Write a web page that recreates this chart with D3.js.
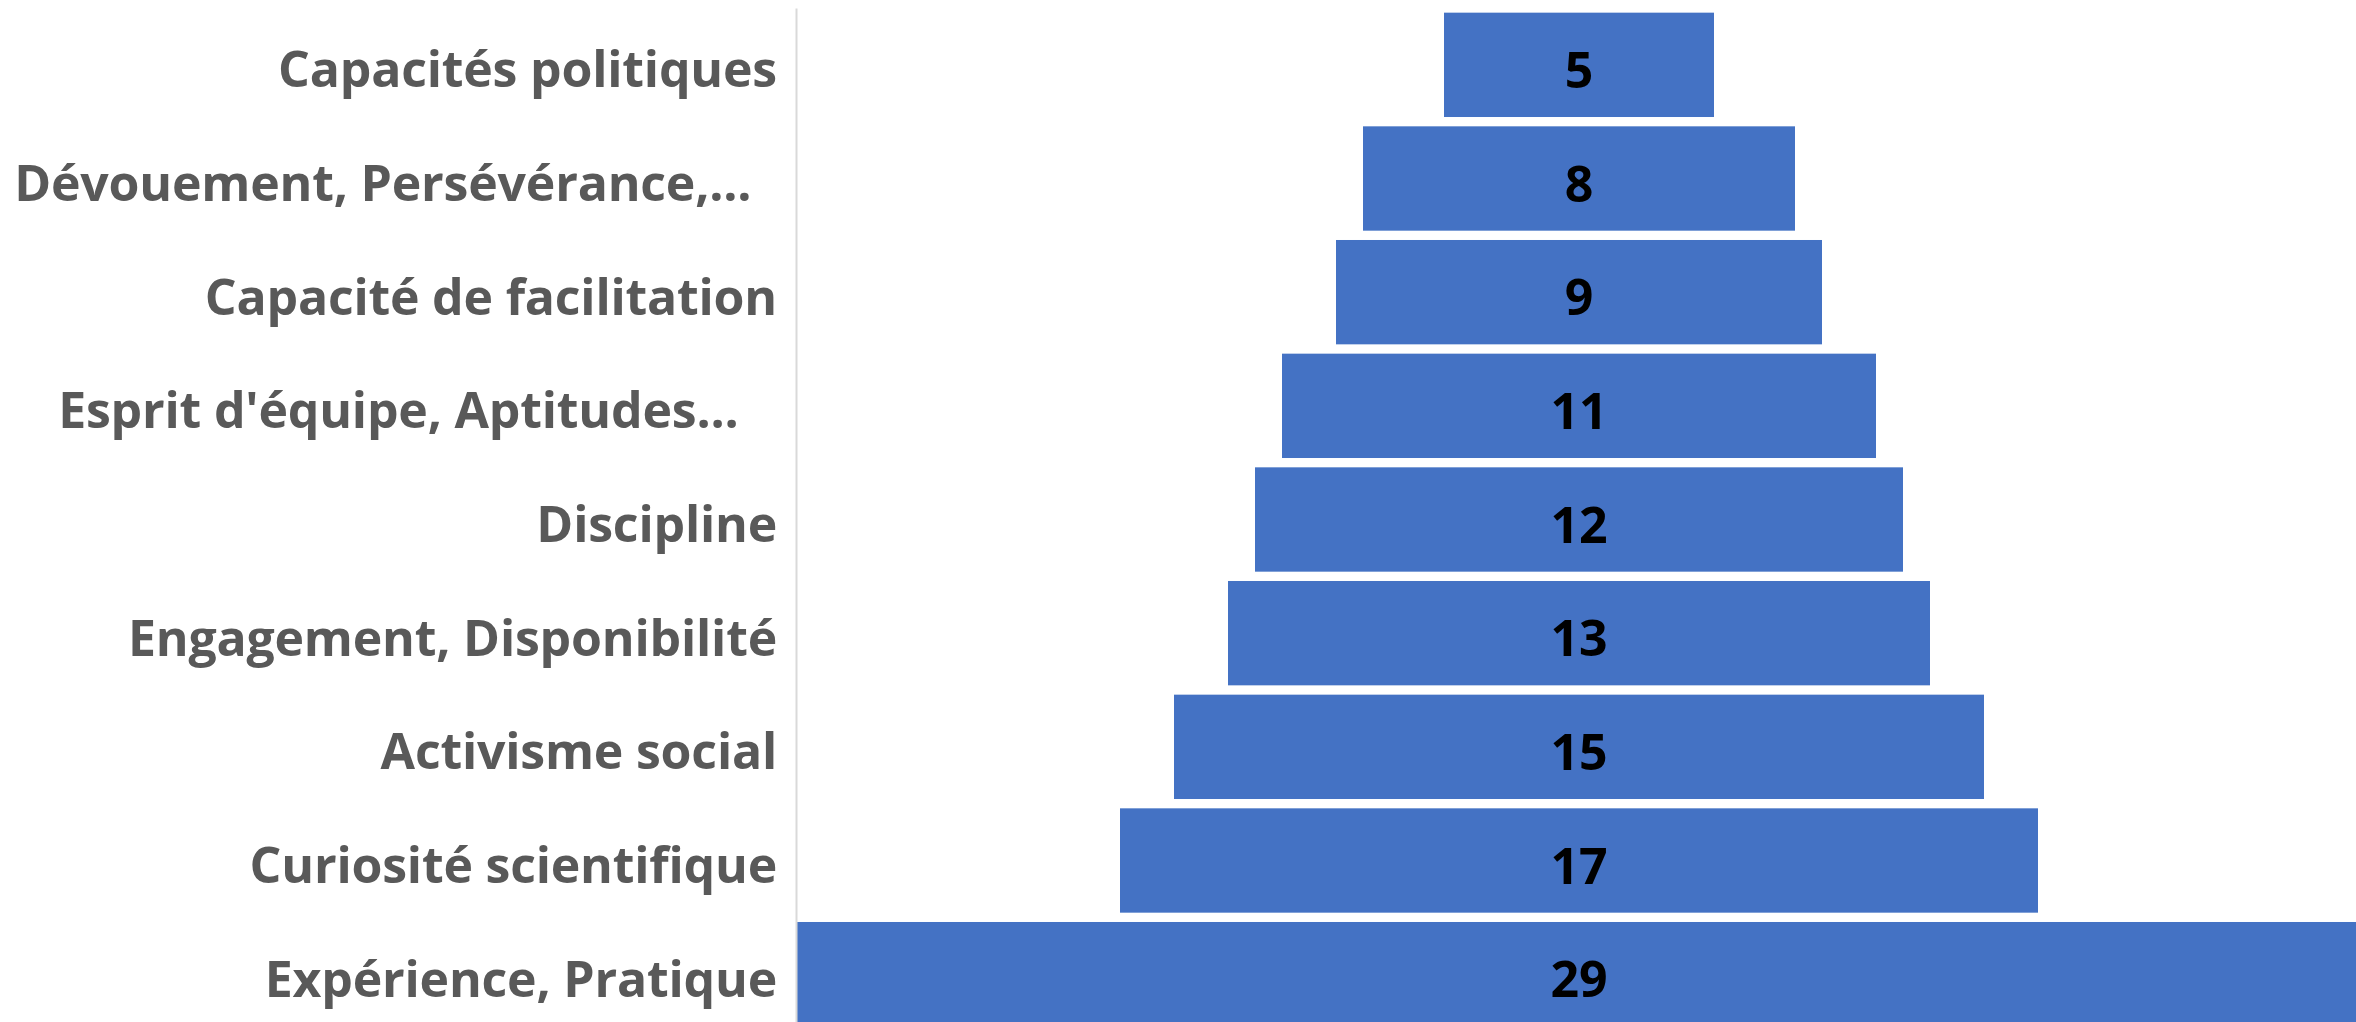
<!DOCTYPE html>
<html>
<head>
<meta charset="utf-8">
<script src="https://cdn.jsdelivr.net/npm/d3@7"></script>
<style>
  body { margin: 0; background: #fff; }
  .label text { white-space: pre; }
</style>
</head>
<body>
<svg id="chart" width="2356" height="1022"></svg>
<script>
const categories = [
  "Capacités politiques",
  "Dévouement, Persévérance,...  ",
  "Capacité de facilitation",
  "Esprit d'équipe, Aptitudes...   ",
  "Discipline",
  "Engagement, Disponibilité",
  "Activisme social",
  "Curiosité scientifique",
  "Expérience, Pratique"
];
const values = [5, 8, 9, 11, 12, 13, 15, 17, 29];

const svg = d3.select("#chart");
const width = 2356;
const height = 1022;
const margin = { top: 8, left: 796, right: -6, bottom: -9 };

// funnel: bars centred on the middle of the plot area
const x = d3
  .scaleLinear()
  .domain([0, d3.max(values)])
  .range([0, width - margin.left - margin.right]);
const cx = margin.left + x(d3.max(values)) / 2;

const y = d3
  .scaleBand()
  .domain(categories)
  .range([margin.top, height - margin.bottom])
  .paddingInner(0.082)
  .paddingOuter(0.041);

svg
  .append("g")
  .selectAll("rect")
  .data(values)
  .join("rect")
  .attr("x", (d) => cx - x(d) / 2)
  .attr("y", (d, i) => y(categories[i]))
  .attr("width", (d) => x(d))
  .attr("height", y.bandwidth())
  .attr("fill", "#4472C4");

svg
  .append("g")
  .selectAll("text")
  .data(values)
  .join("text")
  .attr("x", cx)
  .attr("y", (d, i) => y(categories[i]) + y.bandwidth() / 2)
  .attr("dy", "0.46em")
  .attr("text-anchor", "middle")
  .attr("font-family", "'Open Sans', sans-serif")
  .attr("font-weight", 700)
  .attr("font-size", 50)
  .attr("fill", "#000")
  .text((d) => d);

const axis = svg
  .append("g")
  .attr("class", "label")
  .attr("transform", `translate(${margin.left}, 0)`)
  .call(d3.axisLeft(y).tickSize(0).tickPadding(19).tickSizeOuter(0));

axis.select(".domain").attr("stroke", "#d9d9d9").attr("stroke-width", 2);
axis
  .selectAll("text")
  .attr("dy", "0.45em")
  .attr("font-family", "'Open Sans', sans-serif")
  .attr("font-weight", 700)
  .attr("font-size", 50)
  .attr("letter-spacing", -0.2)
  .attr("fill", "#595959");
</script>
</body>
</html>
